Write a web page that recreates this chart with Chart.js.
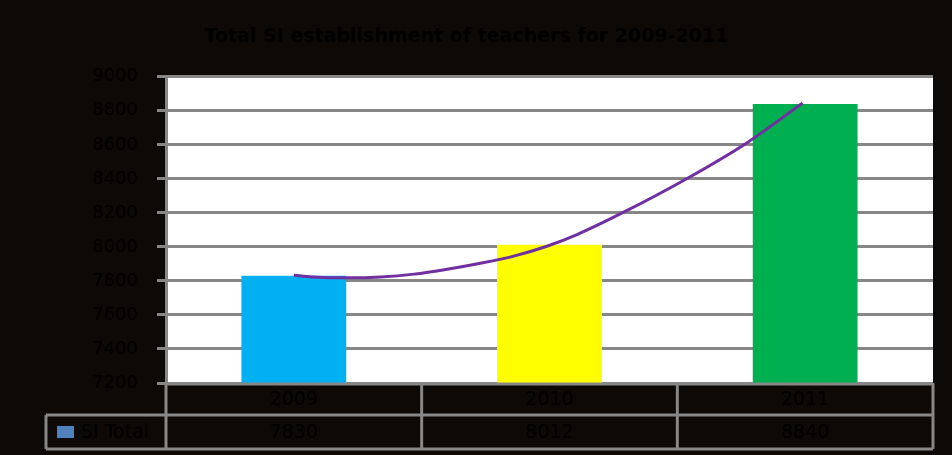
<!DOCTYPE html>
<html>
<head>
<meta charset="utf-8">
<script src="https://cdn.jsdelivr.net/npm/chart.js@4"></script>
<style>
html,body{margin:0;padding:0;background:#0d0907;}
#wrap{width:952px;height:455px;position:relative;}
</style>
</head>
<body>
<div id="wrap"><canvas id="c" width="952" height="455"></canvas></div>
<script>
const categories = ["2009", "2010", "2011"];
const siTotal = [7830, 8012, 8840];
const barColors = ["#00b0f0", "#ffff00", "#00b050"];
const seriesName = "SI Total";
const titleText = "Total SI establishment of teachers for 2009-2011";
const yMin = 7200, yMax = 9000, yStep = 200;
// trendline (x in category-index units, 0 = 2009)
const trendX = [0, 0.07, 0.21, 0.34, 0.47, 0.6, 0.73, 0.86, 0.99, 1.11, 1.29, 1.54, 1.77, 1.99];
const trendY = [7834, 7823, 7818, 7823, 7840, 7869, 7904, 7946, 8004, 8074, 8204, 8404, 8610, 8846];

const GRID = "#878787";
const FONT = "'DejaVu Sans', sans-serif";

const bgPlugin = {
  id: 'bg',
  beforeDraw(chart) {
    const ctx = chart.ctx;
    ctx.save();
    ctx.fillStyle = '#0d0907';
    ctx.fillRect(0, 0, chart.width, chart.height);
    const a = chart.chartArea;
    ctx.fillStyle = '#ffffff';
    ctx.fillRect(a.left, a.top, a.right - a.left, a.bottom - a.top);
    ctx.restore();
  }
};

const tablePlugin = {
  id: 'dataTable',
  afterDraw(chart) {
    const ctx = chart.ctx;
    const a = chart.chartArea;
    const xs = chart.scales.x;
    const n = categories.length;
    const colW = (a.right - a.left) / n;
    const r0 = a.bottom + 1, r1 = a.bottom + 32, r2 = a.bottom + 66;
    const legendLeft = 46;
    ctx.save();
    ctx.strokeStyle = GRID;
    ctx.lineWidth = 3;
    ctx.beginPath();
    ctx.moveTo(a.left, r0); ctx.lineTo(a.right, r0);
    ctx.moveTo(legendLeft, r1); ctx.lineTo(a.right, r1);
    ctx.moveTo(legendLeft, r2); ctx.lineTo(a.right, r2);
    for (let i = 0; i <= n; i++) {
      const x = a.left + i * colW;
      ctx.moveTo(x, a.bottom); ctx.lineTo(x, r2);
    }
    ctx.moveTo(legendLeft, r1); ctx.lineTo(legendLeft, r2);
    ctx.stroke();

    ctx.fillStyle = '#000000';
    ctx.font = "19px " + FONT;
    ctx.textAlign = 'center';
    ctx.textBaseline = 'middle';
    categories.forEach((c, i) => {
      const x = xs.getPixelForValue(i);
      ctx.fillText(c, x, (r0 + r1) / 2 + 1);
      ctx.fillText(String(siTotal[i]), x, (r1 + r2) / 2 + 1);
    });
    ctx.fillStyle = '#4f81bd';
    ctx.fillRect(57, (r1 + r2) / 2 - 6, 17, 12);
    ctx.fillStyle = '#000000';
    ctx.textAlign = 'left';
    ctx.fillText(seriesName, 81, (r1 + r2) / 2 + 1);
    ctx.restore();
  }
};

new Chart(document.getElementById('c'), {
  data: {
    labels: categories,
    datasets: [
      {
        type: 'line',
        label: 'Trend',
        data: trendX.map((x, i) => ({ x: x, y: trendY[i] })),
        xAxisID: 'xt',
        borderColor: '#7030a0',
        borderWidth: 3,
        pointRadius: 0,
        cubicInterpolationMode: 'monotone',
        fill: false,
        order: 0
      },
      {
        type: 'bar',
        label: seriesName,
        data: siTotal,
        xAxisID: 'x',
        backgroundColor: barColors,
        borderWidth: 0,
        grouped: false,
        categoryPercentage: 1.0,
        barPercentage: 0.41,
        order: 1
      }
    ]
  },
  options: {
    responsive: false,
    animation: false,
    devicePixelRatio: 1,
    layout: { padding: { left: 0, right: 19, bottom: 72, top: 0 } },
    plugins: {
      legend: { display: false },
      tooltip: { enabled: false },
      title: {
        display: true,
        text: titleText,
        color: '#000000',
        font: { family: FONT, size: 19, weight: 'bold' },
        padding: { top: 26, bottom: 28 }
      }
    },
    scales: {
      x: { display: false, offset: true },
      xt: { type: 'linear', display: false, min: -0.5, max: 2.5 },
      y: {
        min: yMin,
        max: yMax,
        ticks: {
          stepSize: yStep,
          color: '#000000',
          font: { family: FONT, size: 18 },
          padding: 19,
          callback: (v) => String(v)
        },
        grid: {
          color: GRID,
          lineWidth: 3,
          tickLength: 9,
          drawTicks: true
        },
        border: { display: true, color: GRID, width: 3 },
        afterFit(scale) { scale.width = 166; }
      }
    }
  },
  plugins: [bgPlugin, tablePlugin]
});
</script>
</body>
</html>
